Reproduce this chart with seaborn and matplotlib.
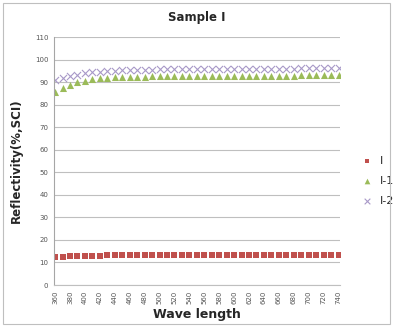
import numpy as np
import pandas as pd
import seaborn as sns
import matplotlib.pyplot as plt

wavelength = list(range(360, 741, 10))
s1 = [12.4, 12.6, 12.7, 12.9, 12.9, 12.9, 12.9, 13.1, 13.1, 13.1, 13.1, 13.1, 13.1, 13.1, 13.1,
      13.1, 13.1, 13.1, 13.1, 13.1, 13.1, 13.1, 13.1, 13.1, 13.1, 13.1, 13.1, 13.1, 13.1, 13.1,
      13.1, 13.1, 13.1, 13.4, 13.4, 13.4, 13.5, 13.5, 13.5]
s2 = [85.5, 87.2, 88.8, 89.9, 90.7, 91.2, 91.6, 91.9, 92.1, 92.2, 92.3, 92.4, 92.4, 92.5, 92.5,
      92.5, 92.6, 92.6, 92.6, 92.6, 92.6, 92.7, 92.7, 92.7, 92.7, 92.7, 92.8, 92.8, 92.8, 92.8,
      92.9, 92.9, 92.9, 93.0, 93.0, 93.1, 93.1, 93.2, 93.2]
s3 = [91.0, 91.8, 92.6, 93.3, 93.9, 94.3, 94.6, 94.9, 95.1, 95.2, 95.3, 95.4, 95.5, 95.5, 95.6,
      95.6, 95.6, 95.7, 95.7, 95.7, 95.7, 95.8, 95.8, 95.8, 95.8, 95.8, 95.9, 95.9, 95.9, 95.9,
      96.0, 96.0, 96.0, 96.1, 96.1, 96.1, 96.2, 96.2, 96.2]
labels = ["Ⅰ", "Ⅰ-1", "Ⅰ-2"]
xticks = list(range(360, 741, 20))
yticks = list(range(0, 111, 10))

sns.set_style("white")
plt.rcParams['font.family'] = ['DejaVu Sans', 'Noto Sans CJK SC']

fig = plt.figure(figsize=(3.93, 3.27), dpi=100)
ax = fig.add_axes([54/393, 1 - 285/327, (340-54)/393, (285-37)/327])

colors = ["#C0504D", "#9BBB59", "#A899C8"]
markers = ["s", "^", "x"]
sizes = [18, 26, 26]
for vals, lab, c, m, sz in zip([s1, s2, s3], labels, colors, markers, sizes):
    d = pd.DataFrame({"wl": wavelength, "val": vals})
    if m == "x":
        sns.scatterplot(data=d, x="wl", y="val", marker=m, color=c, s=sz,
                        linewidth=0.8, ax=ax, label=lab)
    else:
        sns.scatterplot(data=d, x="wl", y="val", marker=m, color=c, s=sz,
                        linewidth=0, ax=ax, label=lab)

ax.set_xlim(358.5, 742)
ax.set_ylim(0, 110)
ax.set_yticks(yticks)
ax.set_xticks(xticks)
ax.set_xticklabels([str(t) for t in xticks], rotation=90, fontsize=5, color="#555555")
ax.set_yticklabels([str(t) for t in yticks], fontsize=5, color="#555555")
ax.yaxis.grid(True, color="#BFBFBF", linewidth=0.8)
ax.tick_params(axis="both", length=0, pad=4)
for sp in ["top", "right"]:
    ax.spines[sp].set_visible(False)
ax.spines["left"].set_color("#A6A6A6")
ax.spines["bottom"].set_color("#BFBFBF")
ax.spines["left"].set_linewidth(0.8)
ax.spines["bottom"].set_linewidth(0.8)

ax.set_xlabel("Wave length", fontsize=9, fontweight="bold", labelpad=3)
ax.set_ylabel("Reflectivity(%,SCI)", fontsize=8.5, fontweight="bold", labelpad=9)
fig.text(197/393, 1 - 17/327, "Sample Ⅰ", fontsize=8.5, fontweight="bold", ha="center", va="center")

handles, labs = ax.get_legend_handles_labels()
leg = ax.legend(handles, labs, loc="center left", bbox_to_anchor=(1.02, 0.42),
                frameon=False, fontsize=8, handletextpad=0.2, labelspacing=0.9,
                markerscale=0.8)

border = plt.Rectangle((0.008, 0.008), 0.984, 0.984, transform=fig.transFigure,
                       fill=False, edgecolor="#BFBFBF", linewidth=0.8)
fig.patches.append(border)

fig.savefig("out.png", dpi=100)
